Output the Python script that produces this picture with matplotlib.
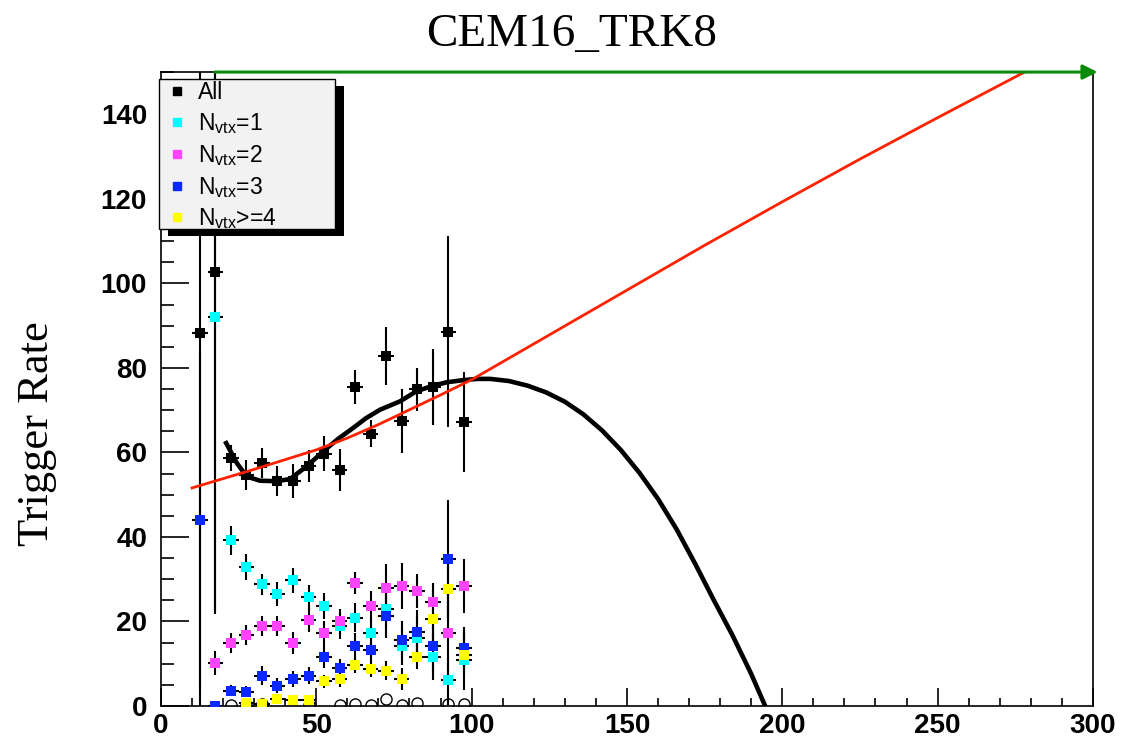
import numpy as np
import matplotlib.pyplot as plt
from matplotlib.lines import Line2D
from matplotlib.patches import Rectangle
from matplotlib.ticker import MultipleLocator

plt.rcParams['font.family'] = ['Liberation Sans', 'DejaVu Sans']
plt.rcParams['mathtext.default'] = 'regular'

# bin centres (width 5)
all_x = [12.5, 17.5, 22.5, 27.5, 32.5, 37.5, 42.5, 47.5, 52.5, 57.5, 62.5, 67.5, 72.5, 77.5, 82.5, 87.5, 92.5, 97.5]
all_y = [88.3, 102.8, 58.7, 54.7, 57.5, 53.2, 53.2, 56.7, 59.7, 55.9, 75.5, 64.4, 82.8, 67.4, 74.9, 75.5, 88.5, 67.2]
all_err = [100, 81, 3.0, 3.5, 3.5, 3.5, 4.0, 3.8, 4.2, 5.0, 4.1, 3.2, 6.8, 7.6, 5.1, 9.0, 22.6, 11.8]

n1_x = all_x[1:]
n1_y = [92.0, 39.2, 32.9, 28.8, 26.5, 29.7, 25.7, 23.7, 19.0, 20.9, 17.2, 22.9, 14.1, 16.0, 11.7, 6.2, 10.9]
n1_err = [70, 3.4, 3.0, 2.5, 2.8, 2.9, 3.0, 3.0, 3.2, 3.5, 3.5, 4.0, 4.5, 5.0, 5.5, 6.0, 7.0]

n2_x = all_x[1:]
n2_y = [10.1, 14.9, 16.8, 19.0, 19.0, 14.9, 20.4, 17.2, 20.0, 29.2, 23.7, 28.0, 28.4, 27.3, 24.7, 17.2, 28.4]
n2_err = [2.8, 2.4, 2.4, 2.4, 2.4, 2.6, 2.8, 3.0, 3.0, 2.6, 3.5, 5.5, 5.5, 4.0, 4.5, 10.0, 6.5]

n3_x = all_x
n3_y = [43.9, 0.0, 3.6, 3.4, 7.2, 4.8, 6.4, 7.2, 11.7, 8.9, 14.2, 13.3, 21.2, 15.6, 17.6, 14.1, 34.8, 13.7]
n3_err = [40, 0.5, 1.3, 1.3, 2.2, 1.8, 2.0, 2.0, 2.8, 2.2, 3.0, 3.0, 5.0, 4.5, 5.0, 6.0, 14.0, 5.0]

n4_x = all_x[3:]
n4_y = [0.6, 0.4, 1.7, 1.4, 1.4, 5.8, 6.4, 9.7, 8.8, 8.4, 6.4, 11.7, 20.5, 27.6, 12.1]
n4_err = [0.8, 0.8, 1.0, 1.0, 1.0, 1.5, 1.8, 2.0, 2.0, 2.2, 2.5, 3.0, 7.0, 8.0, 5.0]

# empty bins (open circles)
zero_x = [22.5, 27.5, 32.5, 47.5, 57.5, 62.5, 67.5, 72.5, 77.5, 82.5, 92.5, 97.5]
zero_y = [0.3, 0.3, 0.5, 0.3, 0.3, 0.5, 0.3, 1.6, 0.3, 0.8, 0.5, 0.5]

# fit curves
fit_all_x = [21, 24.4, 27.6, 31.9, 37.3, 41.5, 46.9, 52.3, 57, 61.9, 66, 70.5, 77, 82.3, 87.7, 92, 97.3,
             102, 106, 112, 118, 124, 130, 136, 142, 148, 154, 160, 166, 172, 178, 184, 190, 194.5]
fit_all_y = [62.2, 57.5, 54.3, 53.3, 53.2, 53.7, 56.7, 60.3, 63.2, 65.8, 68.1, 70.1, 72.1, 74.5, 75.8, 76.6, 77.1,
             77.4, 77.4, 76.9, 75.8, 74.2, 72.0, 69.0, 65.2, 60.6, 55.2, 49.0, 41.8, 33.6, 25.0, 16.7, 7.6, 0]
fit_lin_x = [10, 20, 30, 40, 50, 60, 70, 80, 90, 100, 125, 150, 175, 200, 225, 250, 278]
fit_lin_y = [51.6, 53.8, 56.0, 58.3, 60.6, 63.4, 66.6, 70.1, 73.6, 77.2, 87.8, 98.4, 109.0, 119.3, 129.4, 139.2, 150]

labels = ['All', 'N$_{vtx}$=1', 'N$_{vtx}$=2', 'N$_{vtx}$=3', 'N$_{vtx}$>=4']
colors = ['black', '#00ffff', '#ff44ff', '#0a28ff', '#ffff00']

fig = plt.figure(figsize=(11.28, 7.42), dpi=100)
ax = fig.add_axes([0.1427, 0.0485, 0.8262, 0.8544])

series = [(all_x, all_y, all_err), (n1_x, n1_y, n1_err), (n2_x, n2_y, n2_err),
          (n3_x, n3_y, n3_err), (n4_x, n4_y, n4_err)]
for (x, y, e), c in zip(series, colors):
    ax.errorbar(x, y, yerr=e, xerr=2.5, fmt='s', color=c, ms=7, mew=0,
                ecolor='black', elinewidth=1.5, capsize=0, zorder=3)

ax.plot(zero_x, zero_y, 'o', mfc='none', mec='black', ms=8, mew=1.0, zorder=3)

ax.plot(fit_all_x, fit_all_y, color='black', lw=3.3, zorder=4)
ax.plot(fit_lin_x, fit_lin_y, color='#ff2200', lw=2, zorder=5)

ax.set_xlim(0, 300)
ax.set_ylim(0, 150)
ax.xaxis.set_major_locator(MultipleLocator(50))
ax.xaxis.set_minor_locator(MultipleLocator(10))
ax.yaxis.set_major_locator(MultipleLocator(20))
ax.yaxis.set_minor_locator(MultipleLocator(5))
ax.tick_params(axis='y', which='major', direction='in', length=20, width=1.2, pad=10)
ax.tick_params(axis='y', which='minor', direction='in', length=9.5, width=1.2)
ax.tick_params(axis='x', which='major', direction='in', length=13, width=1.2, pad=5)
ax.tick_params(axis='x', which='minor', direction='in', length=6, width=1.2)
for lab in ax.get_xticklabels() + ax.get_yticklabels():
    lab.set_fontsize(20)
    lab.set_fontweight('bold')
for s in ax.spines.values():
    s.set_linewidth(1.2)

ax.set_ylabel('Trigger Rate', family='Liberation Serif', fontsize=32)
ax.yaxis.set_label_coords(-0.112, 0.43)
fig.text(0.507, 0.938, 'CEM16_TRK8', ha='center', va='baseline',
         family='Liberation Serif', fontsize=34)

# green arrow along the top
ax.annotate('', xy=(301.5, 150), xytext=(17.3, 150),
            arrowprops=dict(arrowstyle='-|>', color='#0a8a0a', lw=2.2, mutation_scale=22,
                            shrinkA=0, shrinkB=0),
            annotation_clip=False, zorder=6)

# legend box with ROOT-like shadow
ax.add_patch(Rectangle((0.0075, 0.741), 0.189, 0.237, transform=ax.transAxes,
                       facecolor='black', edgecolor='none', zorder=10, clip_on=False))
ax.add_patch(Rectangle((-0.002, 0.752), 0.189, 0.237, transform=ax.transAxes,
                       facecolor='#f2f2f2', edgecolor='black', lw=1, zorder=11, clip_on=False))
handles = [Line2D([], [], marker='s', ls='none', color=c, ms=5.5) for c in colors]
leg = ax.legend(handles, labels, loc='upper left', bbox_to_anchor=(0.002, 0.991), frameon=False,
                fontsize=16.5, handlelength=0.9, handletextpad=0.5, labelspacing=0.3,
                borderpad=0.15, borderaxespad=0)
leg.set_zorder(12)

fig.savefig('out.png', dpi=100)
